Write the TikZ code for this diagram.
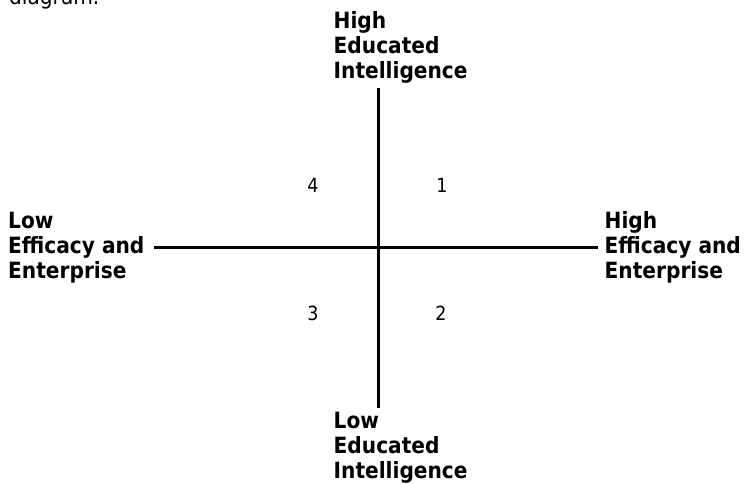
\documentclass[tikz,border=0pt]{standalone}
\usepackage{fontspec}
\setmainfont{DejaVu Sans Condensed}
\usetikzlibrary{positioning}

\begin{document}
\begin{tikzpicture}[
  x=1pt, y=1pt,
  lab/.style={align=left, anchor=west, inner sep=0pt, font=\bfseries\fontsize{22.4}{25}\selectfont},
  qnum/.style={inner sep=0pt, font=\fontsize{19.5}{22}\selectfont},
  axis/.style={line width=3pt}]

\useasboundingbox (0,0) rectangle (745,484);

% ================= the cut line of text above =============================
\node[anchor=base west, inner sep=0pt, font=\fontsize{22.4}{25}\selectfont] (txt) at (9,479) {diagram.};

% ================= the axis labels ========================================
\node[lab] (hiEI) at (333.5,436.8) {High\\Educated\\Intelligence};
\node[lab] (loEI) at (333.5, 36.5) {Low\\Educated\\Intelligence};
\node[lab] (loEE) at (  8,236.5) {Low\\Efficacy and\\Enterprise};
\node[lab] (hiEE) at (604.5,236.5) {High\\Efficacy and\\Enterprise};

\coordinate (vt) at (378,396);
\coordinate (vb) at (378, 76);

% ================= the axes ===============================================
\draw[axis] (vt) -- (vb);
\draw[axis] ([xshift=9pt]loEE.east) -- ([xshift=-7pt]loEE.east -| hiEE.west);

% ================= the quadrants ==========================================
\node[qnum] (q1) at (442,299) {1};
\node[qnum] (q2) at (441,171) {2};
\node[qnum] (q3) at (313,171) {3};
\node[qnum] (q4) at (313,299) {4};

\end{tikzpicture}
\end{document}
